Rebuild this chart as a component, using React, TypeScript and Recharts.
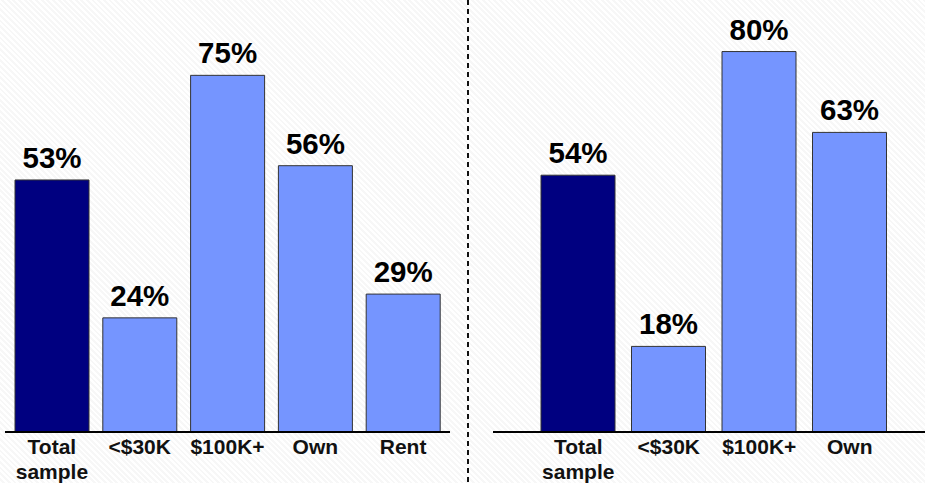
import React from "react";
import { BarChart, Bar, XAxis, YAxis, Cell, LabelList } from "recharts";

const leftCategories = ["Total sample", "<$30K", "$100K+", "Own", "Rent"];
const leftValues = [53, 24, 75, 56, 29];

const rightCategories = ["Total sample", "<$30K", "$100K+", "Own"];
const rightValues = [54, 18, 80, 63];

const FONT = "'Liberation Sans', Arial, Helvetica, sans-serif";
const NAVY = "#000080";
const LIGHT = "#7595FF";

const toRows = (cats: string[], vals: number[]) =>
  cats.map((name, i) => ({ name, value: vals[i] }));

function CategoryTick(props: any) {
  const { x, y, payload } = props;
  const lines = String(payload.value).split(" ");
  return (
    <text
      x={x}
      y={y + 22}
      textAnchor="middle"
      fontFamily={FONT}
      fontWeight="bold"
      fontSize={21}
      fill="#111"
    >
      {lines.map((line, i) => (
        <tspan key={i} x={x} dy={i === 0 ? 0 : 25}>
          {line}
        </tspan>
      ))}
    </text>
  );
}

function Panel({
  cats,
  vals,
  width,
  marginLeft,
  padLeft,
  padRight,
}: {
  cats: string[];
  vals: number[];
  width: number;
  marginLeft: number;
  padLeft: number;
  padRight: number;
}) {
  const data = toRows(cats, vals);
  return (
    <BarChart
      width={width}
      height={483}
      data={data}
      margin={{ top: 4, right: 0, bottom: 0, left: marginLeft }}
    >
      <XAxis
        dataKey="name"
        height={51}
        tickLine={false}
        tickSize={0}
        tickMargin={0}
        interval={0}
        padding={{ left: padLeft, right: padRight }}
        axisLine={{ stroke: "#000", strokeWidth: 2 }}
        tick={<CategoryTick />}
      />
      <YAxis hide domain={[0, 90]} />
      <Bar
        dataKey="value"
        barSize={74}
        stroke="#333"
        strokeWidth={1}
        isAnimationActive={false}
      >
        {data.map((d, i) => (
          <Cell key={d.name} fill={i === 0 ? NAVY : LIGHT} />
        ))}
        <LabelList
          dataKey="value"
          position="top"
          offset={12}
          formatter={(v: any) => `${v}%`}
          fill="#000"
          fontSize={29.5}
          fontWeight="bold"
          fontFamily={FONT}
        />
      </Bar>
    </BarChart>
  );
}

export default function App() {
  return (
    <div
      style={{
        position: "absolute",
        left: 0,
        top: 0,
        width: 925,
        height: 483,
        overflow: "hidden",
        background:
          "repeating-linear-gradient(45deg, #ffffff 0px, #ffffff 2px, #f7f7f7 2px, #f7f7f7 4px)",
      }}
    >
      <div style={{ position: "absolute", left: 0, top: 0 }}>
        <Panel
          cats={leftCategories}
          vals={leftValues}
          width={450}
          marginLeft={5}
          padLeft={3}
          padRight={3}
        />
      </div>
      <svg
        style={{ position: "absolute", left: 460, top: 0 }}
        width={16}
        height={483}
      >
        <line
          x1={8}
          y1={0}
          x2={8}
          y2={483}
          stroke="#111"
          strokeWidth={2}
          strokeDasharray="5 4"
        />
      </svg>
      <div style={{ position: "absolute", left: 470, top: 0 }}>
        <Panel
          cats={rightCategories}
          vals={rightValues}
          width={455}
          marginLeft={23}
          padLeft={40}
          padRight={30}
        />
      </div>
    </div>
  );
}
